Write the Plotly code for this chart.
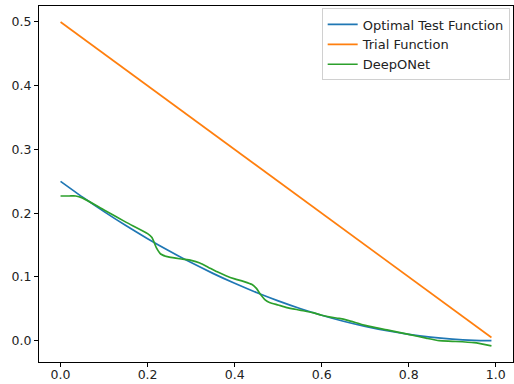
import plotly.graph_objects as go

# Optimal test function (blue)
x_opt = [0.0, 0.05, 0.10, 0.15, 0.20, 0.25, 0.30, 0.35, 0.40, 0.45, 0.50,
         0.55, 0.60, 0.65, 0.70, 0.75, 0.80, 0.85, 0.90, 0.95, 0.99]
y_opt = [0.250, 0.2256, 0.2025, 0.1806, 0.160, 0.1406, 0.1225, 0.1056, 0.090,
         0.0756, 0.0625, 0.0506, 0.040, 0.0306, 0.0225, 0.0156, 0.010, 0.0056,
         0.0025, 0.0006, 0.0000]

# Trial function (orange)
x_trial = [0.0, 0.99]
y_trial = [0.500, 0.005]

# DeepONet (green)
x_don = [0.0, 0.02, 0.035, 0.05, 0.10, 0.15, 0.20, 0.21, 0.22, 0.23, 0.25, 0.28,
         0.30, 0.32, 0.34, 0.36, 0.38, 0.40, 0.42, 0.44, 0.45, 0.46, 0.47, 0.48,
         0.50, 0.52, 0.55, 0.58, 0.60, 0.62, 0.64, 0.66, 0.70, 0.75, 0.80, 0.84,
         0.87, 0.90, 0.95, 0.99]
y_don = [0.227, 0.227, 0.227, 0.224, 0.205, 0.186, 0.168, 0.162, 0.146, 0.136,
         0.131, 0.128, 0.126, 0.122, 0.115, 0.108, 0.102, 0.097, 0.093, 0.088,
         0.082, 0.072, 0.064, 0.060, 0.056, 0.052, 0.048, 0.044, 0.040, 0.037,
         0.035, 0.032, 0.024, 0.017, 0.010, 0.004, 0.000, -0.001, -0.003, -0.008]

x_ticks = [0.0, 0.2, 0.4, 0.6, 0.8, 1.0]
y_ticks = [0.0, 0.1, 0.2, 0.3, 0.4, 0.5]

fig = go.Figure()
fig.add_trace(go.Scatter(x=x_opt, y=y_opt, mode="lines", name="Optimal Test Function",
                         line=dict(color="#1f77b4", width=1.7, shape="spline", smoothing=0.6)))
fig.add_trace(go.Scatter(x=x_trial, y=y_trial, mode="lines", name="Trial Function",
                         line=dict(color="#ff7f0e", width=1.7)))
fig.add_trace(go.Scatter(x=x_don, y=y_don, mode="lines", name="DeepONet",
                         line=dict(color="#2ca02c", width=1.7, shape="spline", smoothing=0.6)))

axis_common = dict(showgrid=False, zeroline=False, showline=True, linecolor="black",
                   linewidth=1, mirror=True, ticks="outside", ticklen=4, tickwidth=1,
                   tickcolor="black", tickfont=dict(family="DejaVu Sans", size=12.5, color="#222"))

fig.update_xaxes(range=[-0.0495, 1.0395], tickvals=x_ticks, ticklabelstandoff=-3,
                 ticktext=[f"{v:.1f}" for v in x_ticks], **axis_common)
fig.update_yaxes(range=[-0.0334, 0.525], tickvals=y_ticks,
                 ticktext=[f"{v:.1f}" for v in y_ticks], **axis_common)

fig.update_layout(
    width=514, height=384,
    margin=dict(l=39, r=1, t=6, b=22),
    paper_bgcolor="white", plot_bgcolor="white",
    font=dict(family="DejaVu Sans", size=13, color="#222"),
    legend=dict(x=0.993, y=0.993, xanchor="right", yanchor="top",
                bgcolor="rgba(255,255,255,0.8)", bordercolor="#d0d0d0", borderwidth=1,
                font=dict(family="DejaVu Sans", size=13, color="#222"),
                itemwidth=30, tracegroupgap=0),
)

fig.write_html("out.html")
